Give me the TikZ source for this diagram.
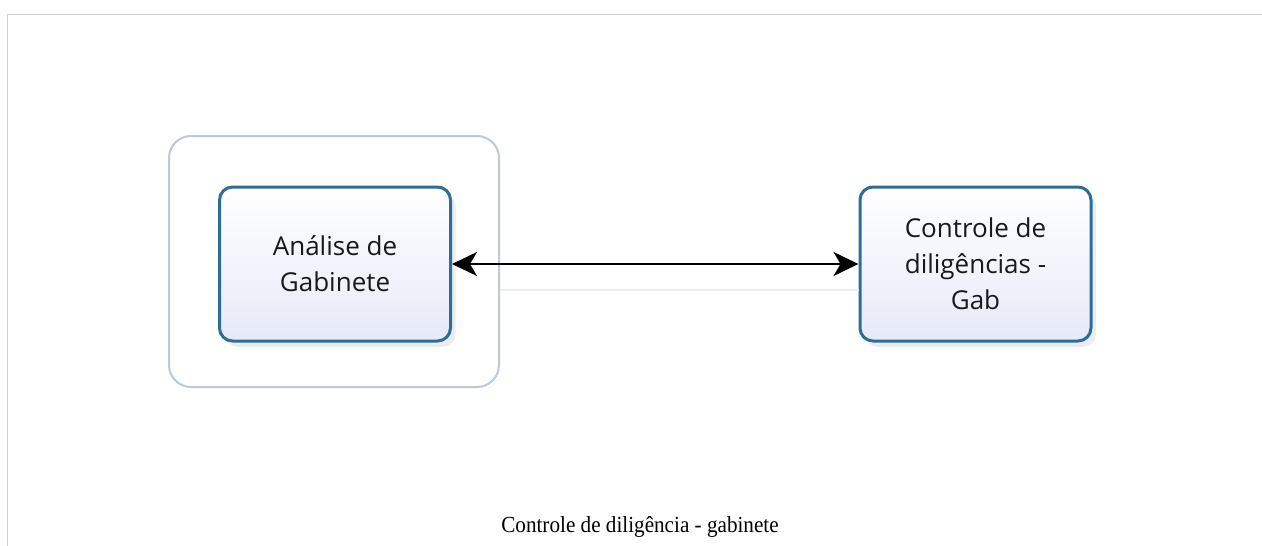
\documentclass[tikz,border=0pt]{standalone}
\usepackage{fontspec}
\setmainfont{Liberation Serif}
\newfontfamily\boxfont{Open Sans}
\usetikzlibrary{arrows.meta,shadows}
\definecolor{taskline}{RGB}{46,110,150}
\definecolor{taskfill}{RGB}{230,234,247}
\definecolor{laneline}{RGB}{186,202,214}
\definecolor{framegray}{RGB}{208,208,208}
\tikzset{
	task/.style={draw=taskline,line width=3pt,rounded corners=13pt,
		top color=white,bottom color=taskfill,
		minimum width=231pt,minimum height=154pt,align=center,
		font=\boxfont\fontsize{26}{36}\selectfont,text=black!90,
		drop shadow={opacity=0.15,shadow xshift=5pt,shadow yshift=-6pt}},
	lane/.style={draw=laneline,line width=2pt,rounded corners=22pt,
		minimum width=330pt,minimum height=251pt},
	flow/.style={line width=2pt,>={Stealth[length=25pt,width=24pt,inset=7pt]},<->},
	faint/.style={draw=black!7,line width=1.5pt}
}
\begin{document}
\begin{tikzpicture}[x=1pt,y=-1pt]
	\useasboundingbox (0,0) rectangle (1262,546);
	\draw[framegray,line width=1.5pt](7.5,546) --(7.5,14.5) --(1262,14.5);
	\node[lane] (group) at (334,261.5) {};
	\node[task] (analise) at (335,264) {Análise de\\Gabinete};
	\node[task] (controle) at (975.5,264) {Controle de\\diligências -\\Gab};
	\coordinate (retorno) at (500,290);
	\draw[faint](retorno) --(retorno -| controle.west);
	\draw[flow](analise.east) --(controle.west);
	\node[font=\fontsize{23}{28}\selectfont,xscale=0.92,anchor=base] (legenda) at (640,532) {Controle de diligência - gabinete};
\end{tikzpicture}
\end{document}
